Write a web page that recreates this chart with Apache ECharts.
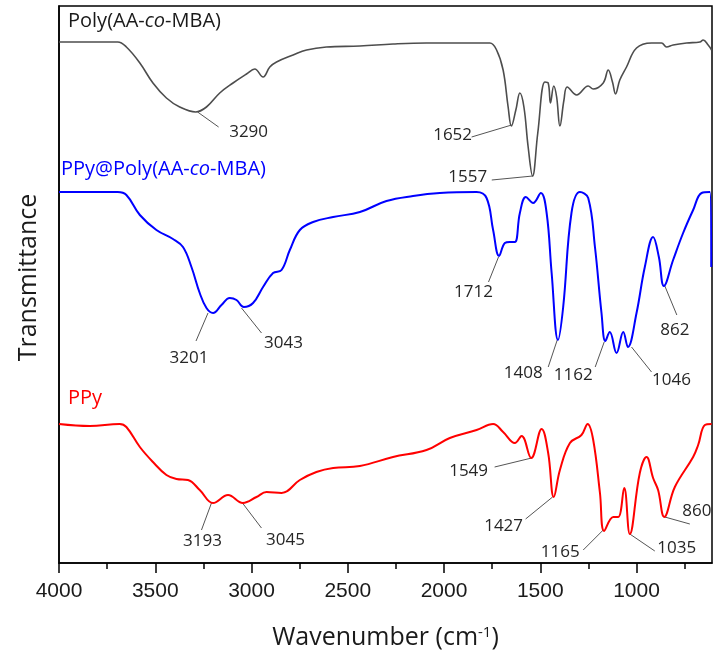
<!DOCTYPE html>
<html>
<head>
<meta charset="utf-8">
<script src="https://cdn.jsdelivr.net/npm/echarts@6/dist/echarts.min.js"></script>
<style>
  html, body { margin: 0; padding: 0; background: #fff; }
  #main { width: 717px; height: 655px; }
</style>
</head>
<body>
<div id="main"></div>
<script>
// x: wavenumber (cm-1), y: transmittance in arbitrary offset units
var majorTicks = [4000, 3500, 3000, 2500, 2000, 1500, 1000];
var minorTicks = [3750, 3250, 2750, 2250, 1750, 1250, 750];

var polyWn = [4000, 3850, 3695, 3650, 3580, 3512, 3442, 3373, 3290, 3234, 3165, 3096, 3026, 2983, 2940, 2905, 2870, 2784, 2714, 2611, 2437, 2265, 2091, 1918, 1762, 1727, 1693, 1667, 1650, 1627, 1606, 1585, 1563, 1540, 1513, 1476, 1459, 1447, 1430, 1415, 1398, 1377, 1360, 1311, 1251, 1225, 1173, 1147, 1125, 1109, 1087, 1052, 1000, 922, 870, 844, 810, 740, 671, 654, 628, 610];
var polyT  = [521, 521, 521, 516, 500, 480, 465, 456, 451, 456, 470, 480, 489, 494, 486, 496, 501, 508, 513, 516, 517, 519, 520, 520, 520, 513, 493, 456, 437, 453, 470, 456, 416, 387, 430, 481, 480, 460, 477, 466, 437, 463, 476, 468, 477, 474, 480, 493, 481, 469, 483, 496, 515, 520, 520, 516, 518, 520, 521, 523, 518, 513];

var ppyPolyWn = [4000, 3695, 3650, 3580, 3494, 3408, 3356, 3312, 3269, 3234, 3200, 3156, 3113, 3078, 3040, 2992, 2940, 2888, 2844, 2801, 2749, 2680, 2576, 2437, 2299, 2161, 2022, 1831, 1779, 1745, 1714, 1684, 1658, 1632, 1606, 1575, 1537, 1497, 1467, 1441, 1408, 1381, 1338, 1294, 1251, 1216, 1182, 1162, 1139, 1104, 1069, 1045, 1000, 957, 914, 884, 858, 810, 758, 706, 662, 619, 612];
var ppyPolyT  = [371, 371, 368, 348, 333, 324, 316, 296, 270, 255, 250, 258, 265, 263, 256, 260, 276, 290, 293, 313, 333, 341, 346, 351, 362, 367, 370, 371, 365, 333, 307, 320, 321, 321, 350, 366, 360, 370, 350, 290, 223, 256, 350, 371, 365, 316, 250, 222, 231, 210, 231, 216, 250, 296, 326, 306, 277, 303, 330, 353, 370, 371, 296];

var ppyWn = [4000, 3840, 3685, 3650, 3580, 3512, 3442, 3390, 3330, 3269, 3200, 3122, 3045, 2974, 2922, 2844, 2749, 2663, 2576, 2437, 2265, 2091, 1970, 1831, 1745, 1693, 1632, 1597, 1547, 1493, 1459, 1430, 1398, 1346, 1286, 1254, 1225, 1190, 1168, 1121, 1095, 1064, 1035, 983, 948, 914, 888, 856, 801, 706, 680, 645, 610];
var ppyT  = [139, 137, 139, 136, 116, 101, 88, 84, 83, 73, 60, 68, 60, 66, 71, 70, 83, 91, 95, 97, 106, 113, 125, 133, 139, 131, 120, 127, 105, 134, 110, 66, 93, 120, 128, 139, 123, 70, 32, 46, 46, 75, 29, 90, 106, 85, 73, 46, 76, 106, 118, 138, 139];

// peak annotations: label text, tip wavenumber, tip value
var polyPeaks = [["3290", 3280, 451], ["1652", 1649, 438], ["1557", 1539, 387]];
var ppyPolyPeaks = [["3201", 3226, 250], ["3043", 3052, 255], ["1712", 1717, 306], ["1408", 1412, 223], ["1162", 1168, 221], ["1046", 1026, 216], ["862", 853, 277]];
var ppyPeaks = [["3193", 3208, 60], ["3045", 3047, 60], ["1549", 1545, 105], ["1427", 1436, 66], ["1165", 1173, 33], ["1035", 1035, 29], ["860", 853, 46]];

// leader line end and label centre, pixels from the tip
var polyOffsets = [[21, 15, 51, 20], [-40, 12, -59, 10], [-41, 4, -65, 1]];
var ppyPolyOffsets = [[-12, 28, -19, 45], [20, 25, 42, 35], [-10, 25, -25, 35], [-9, 27, -34, 33], [-9, 25, -31, 33], [20, 25, 40, 33], [12, 29, 10, 44]];
var ppyOffsets = [[-10, 27, -9, 38], [19, 25, 43, 37], [-37, 9, -63, 13], [-27, 22, -49, 29], [-20, 20, -43, 22], [25, 17, 47, 14], [25, 7, 32, -6]];

function zip(a, b) {
    var out = [];
    for (var i = 0; i < a.length; i++) out.push([a[i], b[i]]);
    return out;
}

var chart = echarts.init(document.getElementById('main'));
var titleFont = '"Open Sans", sans-serif';

var option = {
    animation: false,
    backgroundColor: '#fff',
    grid: { left: 59, right: 5, top: 6, bottom: 92, show: true, borderColor: '#000', borderWidth: 1.5 },
    xAxis: [{
        type: 'value', min: 608, max: 4000, inverse: true,
        name: 'Wavenumber (cm{sup|-1})', nameLocation: 'middle', nameGap: 62,
        nameTextStyle: { fontFamily: titleFont, fontSize: 25, color: '#1a1a1a',
            rich: { sup: { fontFamily: titleFont, fontSize: 15, color: '#1a1a1a', verticalAlign: 'top', padding: [0, 0, 10, 0] } } },
        axisLine: { show: true, lineStyle: { color: '#000', width: 1.5 } },
        axisTick: { show: true, inside: false, length: 10, lineStyle: { color: '#000', width: 1.5 }, customValues: majorTicks },
        axisLabel: { show: true, margin: 18, fontFamily: '"Liberation Sans", Arial, sans-serif', fontSize: 21, color: '#1a1a1a',
            customValues: majorTicks, formatter: function (v) { return String(v); } },
        splitLine: { show: false }
    }, {
        type: 'value', min: 608, max: 4000, inverse: true, position: 'bottom',
        axisLine: { show: false },
        axisTick: { show: true, inside: false, length: 6, lineStyle: { color: '#000', width: 1.5 }, customValues: minorTicks },
        axisLabel: { show: false },
        splitLine: { show: false }
    }],
    yAxis: {
        type: 'value', min: 0, max: 557,
        name: 'Transmittance', nameLocation: 'middle', nameGap: 18,
        nameTextStyle: { fontFamily: titleFont, fontSize: 25, color: '#1a1a1a', padding: [0, 0, 0, 14] },
        axisLine: { show: true, lineStyle: { color: '#000', width: 1.5 } },
        axisTick: { show: false },
        axisLabel: { show: false },
        splitLine: { show: false }
    },
    series: [{
        name: 'Poly(AA-co-MBA)', type: 'line', showSymbol: false, smooth: 0.4,
        data: zip(polyWn, polyT),
        lineStyle: { color: '#4d4d4d', width: 1.6 }
    }, {
        name: 'PPy@Poly(AA-co-MBA)', type: 'line', showSymbol: false, smooth: 0.4,
        data: zip(ppyPolyWn, ppyPolyT),
        lineStyle: { color: '#0000ff', width: 2 }
    }, {
        name: 'PPy', type: 'line', showSymbol: false, smooth: 0.4,
        data: zip(ppyWn, ppyT),
        lineStyle: { color: '#ff0000', width: 2 }
    }]
};
chart.setOption(option);

function seriesTitle(parts, color, x, y) {
    return {
        type: 'text', left: x, top: y,
        style: {
            text: parts, fill: color, font: '20px ' + titleFont,
            rich: { it: { fontStyle: 'italic', fontSize: 20, fontFamily: titleFont, fill: color } }
        }
    };
}

function peakGraphics(peaks, offsets) {
    var els = [];
    for (var i = 0; i < peaks.length; i++) {
        var p = chart.convertToPixel({ gridIndex: 0 }, [peaks[i][1], peaks[i][2]]);
        var o = offsets[i];
        els.push({
            type: 'line',
            shape: { x1: p[0], y1: p[1], x2: p[0] + o[0], y2: p[1] + o[1] },
            style: { stroke: '#555', lineWidth: 1 }
        });
        els.push({
            type: 'text', x: p[0] + o[2], y: p[1] + o[3],
            style: { text: peaks[i][0], fill: '#262626', font: '17px ' + titleFont, align: 'center', verticalAlign: 'middle' }
        });
    }
    return els;
}

var graphics = [
    seriesTitle('Poly(AA-{it|co}-MBA)', '#1a1a1a', 68, 11),
    seriesTitle('PPy@Poly(AA-{it|co}-MBA)', '#0000ff', 61, 159),
    seriesTitle('PPy', '#ff0000', 68, 388)
].concat(peakGraphics(polyPeaks, polyOffsets))
 .concat(peakGraphics(ppyPolyPeaks, ppyPolyOffsets))
 .concat(peakGraphics(ppyPeaks, ppyOffsets));

chart.setOption({ graphic: graphics });
</script>
</body>
</html>
